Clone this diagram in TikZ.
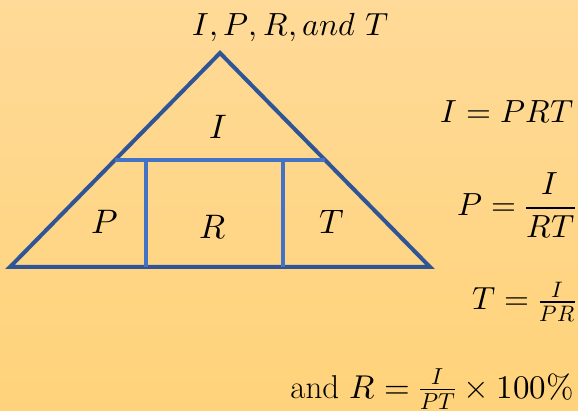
\documentclass[tikz,border=0pt]{standalone}
\usepackage{amsmath,amssymb}
\usepackage{unicode-math}
\usepackage{xcolor}
\usepackage{tikz}
\usetikzlibrary{positioning}

\definecolor{edgeblue}{HTML}{2F5597}
\definecolor{lineblue}{HTML}{4472C4}
\definecolor{bgtop}{HTML}{FFDA98}
\definecolor{bgbot}{HTML}{FFD37A}

\begin{document}
\begin{tikzpicture}[
    x=1pt, y=-1pt,
    outer/.style={draw=edgeblue, line width=4pt, line join=miter},
    inner/.style={draw=lineblue, line width=4pt},
    lbl/.style={font=\fontsize{34}{40}\selectfont, inner sep=0pt},
    eqn/.style={font=\fontsize{32}{38}\selectfont, inner sep=0pt, anchor=base east},
    eqsmall/.style={font=\fontsize{33}{38}\selectfont, inner sep=0pt, anchor=base east}
]
% background
\shade[top color=bgtop, bottom color=bgbot] (0,0) rectangle (578,411);
\useasboundingbox (0,0) rectangle (578,411);

% triangle corners
\coordinate (apex) at (220,53);
\coordinate (bl) at (10,267);
\coordinate (br) at (430,267);
% inner lines
\coordinate (hl) at (115,160);
\coordinate (hr) at (325,160);
\coordinate (vlt) at (146,160);
\coordinate (vlb) at (146,267);
\coordinate (vrt) at (283,160);
\coordinate (vrb) at (283,267);

\draw[outer] (bl) -- (apex) -- (br) -- cycle;
\draw[inner] (hl) -- (hr);
\draw[inner] (vlt) -- (vlb);
\draw[inner] (vrt) -- (vrb);

% labels
\node[lbl, anchor=base, font=\fontsize{32}{38}\selectfont] (title) at (291,36) {$I, P, R, and\ T$};
\node[lbl] (labI) at (218,127) {$I$};
\node[lbl] (labP) at (105,222) {$P$};
\node[lbl] (labR) at (213,227) {$R$};
\node[lbl] (labT) at (332,222) {$T$};

% formulas
\node[eqn] (eqI) at (574,123) {$I = PRT$};
\node[eqn] (eqP) at (576,216) {$P = \dfrac{I}{RT}$};
\node[eqn] (eqT) at (576,310) {$T = \tfrac{I}{PR}$};
\node[eqsmall] (eqR) at (574,398) {and $R = \tfrac{I}{PT} \times 100\%$};
\end{tikzpicture}
\end{document}
